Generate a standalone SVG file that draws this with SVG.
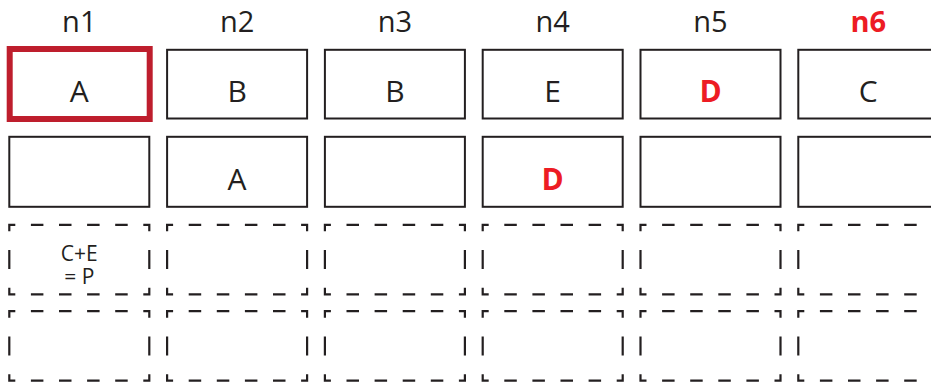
<svg xmlns="http://www.w3.org/2000/svg" xmlns:xlink="http://www.w3.org/1999/xlink" width="931" height="383" viewBox="0 0 931 383">
<style>
  .lbl { font-family: "Open Sans", "Noto Sans", sans-serif; font-size: 29px; fill: #231f20; text-anchor: middle; }
  .lbl-hot { font-weight: bold; fill: #ed1c24; }
  .cell { fill: #ffffff; stroke: #231f20; stroke-width: 2; }
  .cell-sel { fill: #ffffff; stroke: #be1e2d; stroke-width: 6; }
  .txt { font-family: "Open Sans", "Noto Sans", sans-serif; font-size: 30px; fill: #231f20; text-anchor: middle; }
  .txt-hot { font-weight: bold; font-size: 30px; fill: #ed1c24; }
  .small { font-family: "Open Sans", "Noto Sans", sans-serif; font-size: 21px; fill: #231f20; text-anchor: middle; }
  .dash { fill: none; stroke: #231f20; stroke-width: 2.2; stroke-linecap: butt; stroke-linejoin: miter; }
</style>
<defs>
  <path id="dbox" class="dash" d="M0,6.5 V0 H6 M134,0 H140 V6.5 M0,63 V69.5 H6 M134,69.5 H140 V63 M21.6,0 h12.5 M49.7,0 h12.5 M77.8,0 h12.5 M105.9,0 h12.5 M21.6,69.5 h12.5 M49.7,69.5 h12.5 M77.8,69.5 h12.5 M105.9,69.5 h12.5 M0,25.25 v19 M140,25.25 v19"/>
</defs>
<rect width="931" height="383" fill="#ffffff"/>
<g id="labels">
  <text class="lbl" x="79.3" y="32">n1</text>
  <text class="lbl" x="237.1" y="32">n2</text>
  <text class="lbl" x="394.9" y="32">n3</text>
  <text class="lbl" x="552.7" y="32">n4</text>
  <text class="lbl" x="710.5" y="32">n5</text>
  <text class="lbl lbl-hot" x="868.3" y="32">n6</text>
</g>
<g id="n1">
  <g id="n1-r1"><rect class="cell-sel" x="9.7" y="49" width="140" height="70"/><text class="txt" x="79.3" y="102">A</text></g>
  <g id="n1-r2"><rect class="cell" x="9.3" y="136.8" width="140" height="70"/></g>
  <g id="n1-r3"><use xlink:href="#dbox" x="9.3" y="224.8"/><text class="small" x="79.3" y="261">C+E</text><text class="small" x="79.3" y="284">= P</text></g>
  <g id="n1-r4"><use xlink:href="#dbox" x="9.3" y="311.2"/></g>
</g>
<g id="n2">
  <g id="n2-r1"><rect class="cell" x="167.1" y="49.8" width="140" height="68.7"/><text class="txt" x="237.1" y="102">B</text></g>
  <g id="n2-r2"><rect class="cell" x="167.1" y="136.8" width="140" height="70"/><text class="txt" x="237.1" y="190">A</text></g>
  <g id="n2-r3"><use xlink:href="#dbox" x="167.1" y="224.8"/></g>
  <g id="n2-r4"><use xlink:href="#dbox" x="167.1" y="311.2"/></g>
</g>
<g id="n3">
  <g id="n3-r1"><rect class="cell" x="324.9" y="49.8" width="140" height="68.7"/><text class="txt" x="394.9" y="102">B</text></g>
  <g id="n3-r2"><rect class="cell" x="324.9" y="136.8" width="140" height="70"/></g>
  <g id="n3-r3"><use xlink:href="#dbox" x="324.9" y="224.8"/></g>
  <g id="n3-r4"><use xlink:href="#dbox" x="324.9" y="311.2"/></g>
</g>
<g id="n4">
  <g id="n4-r1"><rect class="cell" x="482.7" y="49.8" width="140" height="68.7"/><text class="txt" x="552.7" y="102">E</text></g>
  <g id="n4-r2"><rect class="cell" x="482.7" y="136.8" width="140" height="70"/><text class="txt txt-hot" x="552.7" y="190">D</text></g>
  <g id="n4-r3"><use xlink:href="#dbox" x="482.7" y="224.8"/></g>
  <g id="n4-r4"><use xlink:href="#dbox" x="482.7" y="311.2"/></g>
</g>
<g id="n5">
  <g id="n5-r1"><rect class="cell" x="640.5" y="49.8" width="140" height="68.7"/><text class="txt txt-hot" x="710.5" y="102">D</text></g>
  <g id="n5-r2"><rect class="cell" x="640.5" y="136.8" width="140" height="70"/></g>
  <g id="n5-r3"><use xlink:href="#dbox" x="640.5" y="224.8"/></g>
  <g id="n5-r4"><use xlink:href="#dbox" x="640.5" y="311.2"/></g>
</g>
<g id="n6">
  <g id="n6-r1"><rect class="cell" x="798.3" y="49.8" width="140" height="68.7"/><text class="txt" x="868.3" y="102">C</text></g>
  <g id="n6-r2"><rect class="cell" x="798.3" y="136.8" width="140" height="70"/></g>
  <g id="n6-r3"><use xlink:href="#dbox" x="798.3" y="224.8"/></g>
  <g id="n6-r4"><use xlink:href="#dbox" x="798.3" y="311.2"/></g>
</g>
<g id="connectors"/>
</svg>
